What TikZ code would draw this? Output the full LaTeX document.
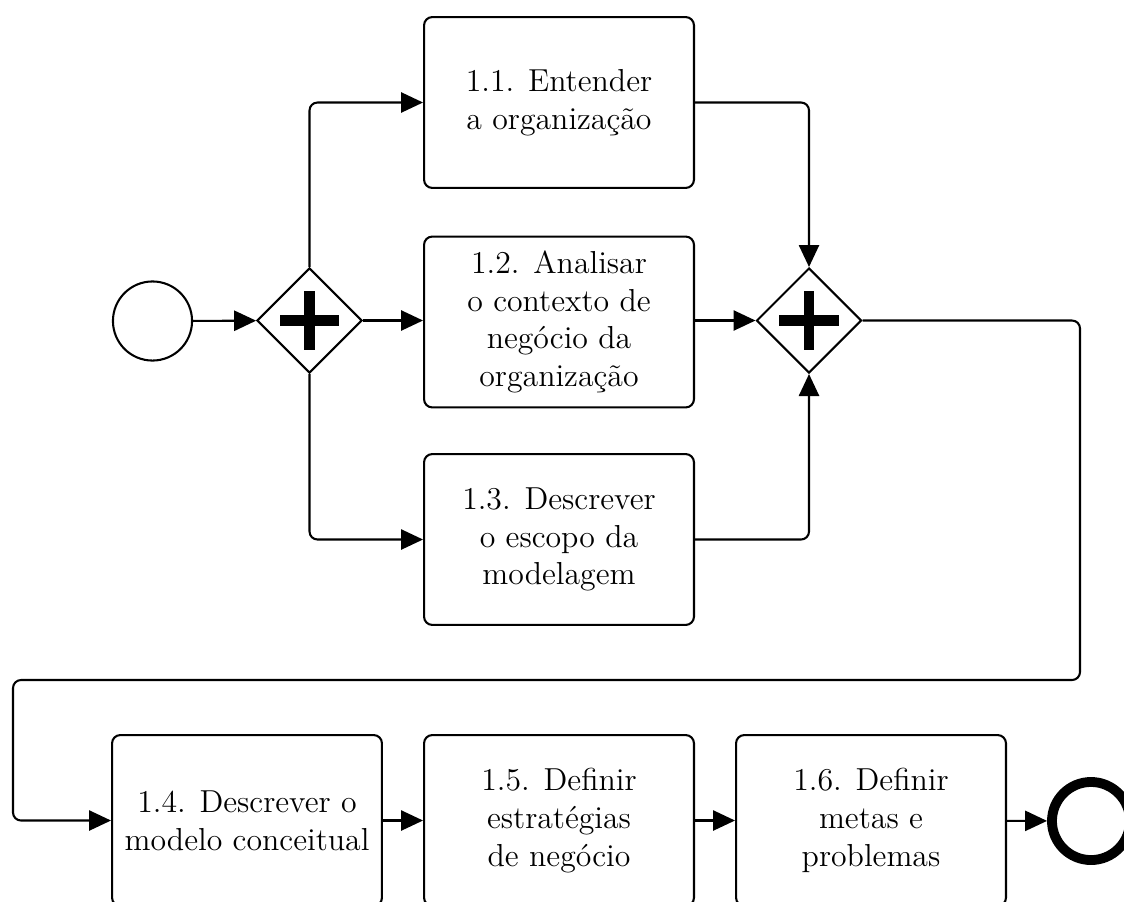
\documentclass[tikz,border=0pt]{standalone}
\usetikzlibrary{arrows.meta,shapes.geometric}
\begin{document}
\begin{tikzpicture}[x=0.3868pt,y=-0.3868pt,
  every node/.style={font=\fontsize{12.3}{14.6}\selectfont},
  task/.style={draw,line width=0.8pt,rounded corners=3.2pt,minimum width=104.4pt,
    minimum height=66.1pt,align=center,inner sep=2pt},
  gate/.style={draw,line width=0.8pt,diamond,aspect=1,inner sep=0pt,minimum size=40.6pt,
    path picture={
      \fill ([shift={(-11.6pt,-2.1pt)}]path picture bounding box.center) rectangle
            ([shift={(11.6pt,2.1pt)}]path picture bounding box.center);
      \fill ([shift={(-2.1pt,-11.6pt)}]path picture bounding box.center) rectangle
            ([shift={(2.1pt,11.6pt)}]path picture bounding box.center);}},
  startev/.style={draw,circle,line width=0.8pt,minimum size=30.6pt,inner sep=0pt},
  endev/.style={draw,circle,line width=3.8pt,minimum size=30.2pt,inner sep=0pt},
  flow/.style={line width=0.8pt,rounded corners=3.1pt,-{Triangle[length=8.5pt,width=7.8pt]}}]
\useasboundingbox (0,0) rectangle (1124,901);
\clip (0,0) rectangle (1124,901);

% events and gateways
\node[startev] (s) at (152.5,321) {};
\node[gate] (g1) at (309.5,320.5) {};
\node[gate] (g2) at (809,320.5) {};
\node[endev] (e) at (1091,821) {};

% activities
\node[task] (t1) at (559,102.5) {1.1. Entender\\a organização};
\node[task] (t2) at (559,322) {1.2. Analisar\\o contexto de\\negócio da\\organização};
\node[task] (t3) at (559,539.5) {1.3. Descrever\\o escopo da\\modelagem};
\node[task] (t4) at (247,820.5) {1.4. Descrever o\\modelo conceitual};
\node[task] (t5) at (559,820.5) {1.5. Definir\\estratégias\\de negócio};
\node[task] (t6) at (871,820.5) {1.6. Definir\\metas e\\problemas};

% bend points of the long return flow
\coordinate (r1) at (1080,680);
\coordinate (l1) at (13,680);

% sequence flows
\draw[flow] (s) -- (g1);
\draw[flow] (g1.north) |- (t1.west);
\draw[flow] (g1.east) -- (g1.east -| t2.west);
\draw[flow] (g1.south) |- (t3.west);
\draw[flow] (t1.east) -| (g2.north);
\draw[flow] (t2.east |- g2.west) -- (g2.west);
\draw[flow] (t3.east) -| (g2.south);
\draw[flow] (g2.east) -| (r1) -- (l1) |- (t4.west);
\draw[flow] (t4) -- (t5);
\draw[flow] (t5) -- (t6);
\draw[flow] (t6) -- (e);
\end{tikzpicture}
\end{document}
